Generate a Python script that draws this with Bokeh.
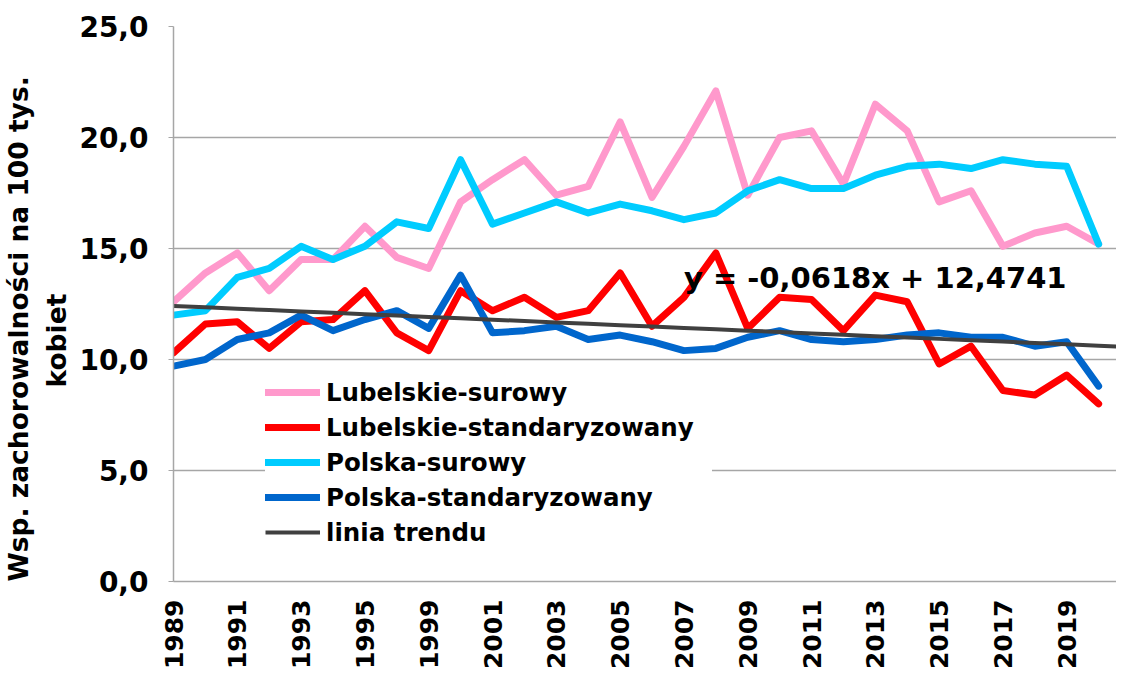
import math
from bokeh.plotting import figure
from bokeh.models import Range1d, FixedTicker, CustomJSTickFormatter, Label, Legend, LegendItem, Title
from bokeh.embed import file_html
from bokeh.resources import INLINE

# ---- data ----
years = ["1989", "1990", "1991", "1992", "1993", "1994", "1995", "1996",
         "1999", "2000", "2001", "2002", "2003", "2004", "2005", "2006",
         "2007", "2008", "2009", "2010", "2011", "2012", "2013", "2014",
         "2015", "2016", "2017", "2018", "2019", "2020"]

lubelskie_surowy = [12.6, 13.9, 14.8, 13.1, 14.5, 14.5, 16.0, 14.6,
                    14.1, 17.1, 18.1, 19.0, 17.4, 17.8, 20.7, 17.3,
                    19.6, 22.1, 17.4, 20.0, 20.3, 17.9, 21.5, 20.3,
                    17.1, 17.6, 15.1, 15.7, 16.0, 15.2]

lubelskie_std = [10.3, 11.6, 11.7, 10.5, 11.7, 11.8, 13.1, 11.2,
                 10.4, 13.1, 12.2, 12.8, 11.9, 12.2, 13.9, 11.5,
                 12.8, 14.8, 11.4, 12.8, 12.7, 11.3, 12.9, 12.6,
                 9.8, 10.6, 8.6, 8.4, 9.3, 8.0]

polska_surowy = [12.0, 12.2, 13.7, 14.1, 15.1, 14.5, 15.1, 16.2,
                 15.9, 19.0, 16.1, 16.6, 17.1, 16.6, 17.0, 16.7,
                 16.3, 16.6, 17.6, 18.1, 17.7, 17.7, 18.3, 18.7,
                 18.8, 18.6, 19.0, 18.8, 18.7, 15.2]

polska_std = [9.7, 10.0, 10.9, 11.2, 12.0, 11.3, 11.8, 12.2,
              11.4, 13.8, 11.2, 11.3, 11.5, 10.9, 11.1, 10.8,
              10.4, 10.5, 11.0, 11.3, 10.9, 10.8, 10.9, 11.1,
              11.2, 11.0, 11.0, 10.6, 10.8, 8.8]

trend_slope = -0.0618
trend_intercept = 12.4741
trend_label = "y = -0,0618x + 12,4741"

series_names = ["Lubelskie-surowy", "Lubelskie-standaryzowany",
                "Polska-surowy", "Polska-standaryzowany"]
trend_name = "linia trendu"
y_title_main = "Wsp. zachorowalności na 100 tys."
y_title_second = "kobiet"

# ---- styles ----
colors = ["#FF99CC", "#FF0000", "#00CCFF", "#0066CC"]
trend_color = "#404040"
FONT = "DejaVu Sans"
GRID = "#A6A6A6"

n = len(years)
idx = list(range(n))

p = figure(width=1116, height=673, output_backend="svg", toolbar_location=None,
           x_range=Range1d(0, 29.56), y_range=Range1d(0, 25),
           min_border_left=173, min_border_right=0, min_border_top=26,
           min_border_bottom=92)
p.outline_line_color = None
p.background_fill_color = "white"
p.border_fill_color = "white"

# grid
p.xgrid.grid_line_color = None
p.ygrid.grid_line_color = GRID
p.ygrid.grid_line_width = 1.5

# y axis
p.yaxis.ticker = FixedTicker(ticks=[0, 5, 10, 15, 20, 25])
p.yaxis.formatter = CustomJSTickFormatter(code="return tick.toFixed(1).replace('.', ',');")
p.yaxis.major_label_text_font = FONT
p.yaxis.major_label_text_font_style = "bold"
p.yaxis.major_label_text_font_size = "28px"
p.yaxis.major_label_text_color = "black"
p.yaxis.major_tick_out = 5
p.yaxis.major_tick_in = 0
p.yaxis.major_tick_line_color = GRID
p.yaxis.minor_tick_line_color = None
p.yaxis.major_label_standoff = 20
p.yaxis.axis_line_color = GRID
p.yaxis.axis_line_width = 1.5

# x axis
p.xaxis.ticker = FixedTicker(ticks=list(range(0, n, 2)))
p.xaxis.major_label_overrides = {i: years[i] for i in range(0, n, 2)}
p.xaxis.major_label_orientation = math.pi / 2
p.xaxis.major_label_text_font = FONT
p.xaxis.major_label_text_font_style = "bold"
p.xaxis.major_label_text_font_size = "25px"
p.xaxis.major_label_text_color = "black"
p.xaxis.major_tick_line_color = None
p.xaxis.minor_tick_line_color = None
p.xaxis.major_label_standoff = 12
p.xaxis.axis_line_color = GRID
p.xaxis.axis_line_width = 1.5

# y-axis title: two lines as left-side titles (inner line first)
p.add_layout(Title(text=y_title_second, align="left", offset=194, standoff=10,
                   text_font=FONT, text_font_style="bold", text_font_size="26.5px",
                   text_color="black"), "left")
p.add_layout(Title(text=y_title_main, align="left", offset=0, standoff=0,
                   text_font=FONT, text_font_style="bold", text_font_size="26.5px",
                   text_color="black"), "left")

# series
renderers = []
for vals, col in zip([lubelskie_surowy, lubelskie_std, polska_surowy, polska_std], colors):
    r = p.line(idx, vals, line_color=col, line_width=7, line_join="round", line_cap="round")
    renderers.append(r)

# linear trend (Excel: x = 1..n, forecast one period forward)
tx = list(range(0, n + 1))
ty = [trend_slope * (i + 1) + trend_intercept for i in tx]
tr = p.line(tx, ty, line_color=trend_color, line_width=4)
renderers.append(tr)

p.add_layout(Label(x=16.0, y=13.69, text=trend_label, text_font=FONT,
                   text_font_style="bold", text_font_size="29px",
                   text_color="black", text_baseline="alphabetic"))

items = [LegendItem(label=name, renderers=[r]) for name, r in zip(series_names + [trend_name], renderers)]
legend = Legend(items=items, location=(92, 34))
legend.background_fill_color = "white"
legend.background_fill_alpha = 1.0
legend.border_line_color = None
legend.label_text_font = FONT
legend.label_text_font_style = "bold"
legend.label_text_font_size = "24.5px"
legend.label_text_color = "black"
legend.glyph_width = 55
legend.glyph_height = 30
legend.label_height = 30
legend.label_width = 386
legend.spacing = 5
legend.padding = 15
legend.margin = 0
legend.label_standoff = 6
p.add_layout(legend)

open("out.html", "w").write(file_html(p, INLINE))
